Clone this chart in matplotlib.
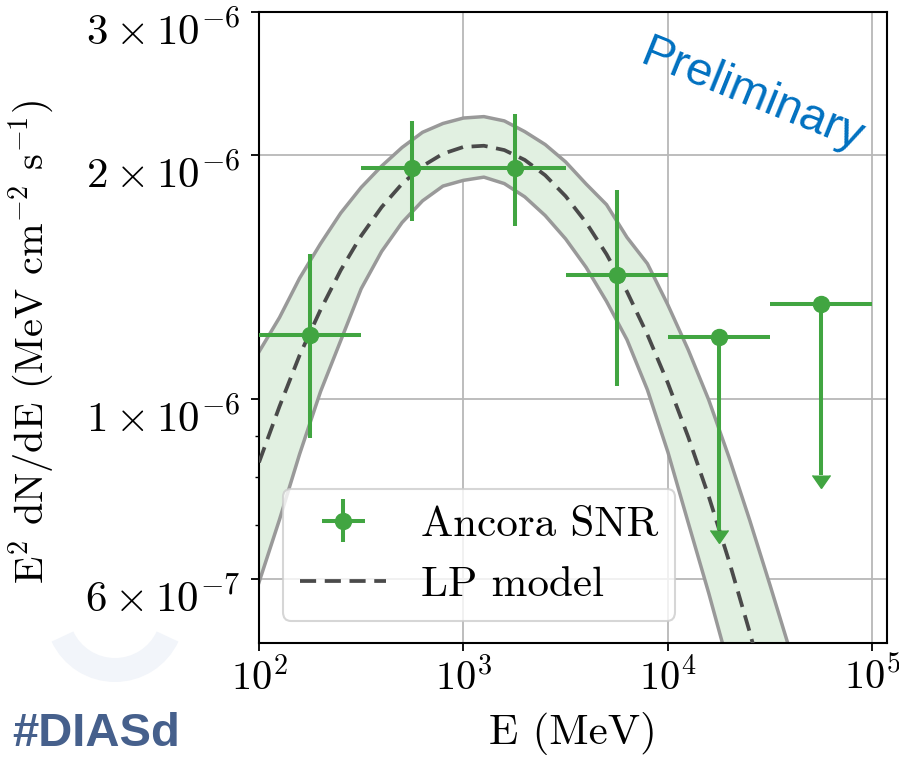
import numpy as np
import matplotlib
matplotlib.use('Agg')
import matplotlib.pyplot as plt
from matplotlib.patches import Wedge
from matplotlib.transforms import ScaledTranslation

plt.rcParams['font.family'] = 'serif'
plt.rcParams['font.serif'] = ['cmr10']
plt.rcParams['mathtext.fontset'] = 'cm'
plt.rcParams['axes.unicode_minus'] = False
plt.rcParams['axes.formatter.use_mathtext'] = True

# flux points, E in MeV, E^2 dN/dE in MeV cm-2 s-1
e_ctr = [177.8, 562.3, 1778.0, 5623.0, 17783.0, 56234.0]
e_lo = [100.0, 316.2, 1000.0, 3162.0, 10000.0, 31623.0]
e_hi = [316.2, 1000.0, 3162.0, 10000.0, 31623.0, 100000.0]
flux = [1.200e-6, 1.927e-6, 1.928e-6, 1.423e-6, 1.192e-6, 1.310e-6]
flux_dn = [0.894e-6, 1.655e-6, 1.632e-6, 1.036e-6, 0.689e-6, 0.806e-6]
flux_up = [1.510e-6, 2.199e-6, 2.247e-6, 1.811e-6, 1.192e-6, 1.310e-6]
is_ul = [False, False, False, False, True, True]

# LP model and its band, read at log10(E) = 2.0, 2.1, ... 4.6
e_model = [100, 126, 158, 200, 251, 316, 398, 501, 631, 794,
           1000, 1259, 1585, 1995, 2512, 3162, 3981, 5012, 6310, 7943,
           10000, 12589, 15849, 19953, 25119, 31623, 39811]
lp_model = [0.835, 0.979, 1.132, 1.288, 1.441, 1.589, 1.724, 1.842, 1.937, 2.006,
            2.045, 2.052, 2.027, 1.971, 1.887, 1.778, 1.650, 1.508, 1.356, 1.200,
            1.046, 0.897, 0.758, 0.630, 0.516, 0.416, 0.330]
lp_upper = [1.143, 1.260, 1.409, 1.554, 1.695, 1.823, 1.937, 2.042, 2.132, 2.186,
            2.220, 2.229, 2.202, 2.136, 2.059, 1.960, 1.841, 1.736, 1.582, 1.468,
            1.306, 1.149, 0.997, 0.846, 0.709, 0.589, 0.487]
lp_lower = [0.594, 0.710, 0.855, 1.021, 1.180, 1.367, 1.520, 1.650, 1.755, 1.830,
            1.860, 1.877, 1.843, 1.775, 1.683, 1.575, 1.453, 1.319, 1.183, 1.026,
            0.860, 0.703, 0.576, 0.466, 0.376, 0.302, 0.241]

yticks = [6e-7, 1e-6, 2e-6, 3e-6]
ytick_labels = [r'$6\times10^{-7}$', r'$1\times10^{-6}$', r'$2\times10^{-6}$', r'$3\times10^{-6}$']
xticks = [1e2, 1e3, 1e4, 1e5]
xtick_labels = [r'$10^{2}$', r'$10^{3}$', r'$10^{4}$', r'$10^{5}$']

green = '#41a541'
fs = 31

fig = plt.figure(figsize=(8.99, 7.57), dpi=100)

# faint logo watermark in the lower left corner (figure pixel coords)
bg = fig.add_axes([0, 0, 1, 1], zorder=-1)
bg.set_xlim(0, 899)
bg.set_ylim(757, 0)
bg.axis('off')
bg.add_patch(Wedge((115, 612), 70, 25, 155, width=24, color='#f2f5fa', lw=0))

ax = fig.add_axes([259/899, 1-643/757, 628/899, 631/757])

e_m = np.array(e_model, dtype=float)
ax.fill_between(e_m, np.array(lp_lower)*1e-6, np.array(lp_upper)*1e-6,
                color='#e1f0e1', lw=0, zorder=1)
ax.plot(e_m, np.array(lp_upper)*1e-6, color='#999999', lw=2.5, zorder=2)
ax.plot(e_m, np.array(lp_lower)*1e-6, color='#999999', lw=2.5, zorder=2)
lp_line, = ax.plot(e_m, np.array(lp_model)*1e-6, color='#4a4a4a', lw=2.7,
                   ls=(0, (4.3, 2.3)), zorder=3, label='LP model')

x = np.array(e_ctr)
y = np.array(flux)
xerr = np.array([x - np.array(e_lo), np.array(e_hi) - x])
yerr = np.array([y - np.array(flux_dn), np.array(flux_up) - y])
ul = np.array(is_ul)
det = ~ul

pts = ax.errorbar(x[det], y[det], xerr=xerr[:, det], yerr=yerr[:, det], fmt='o',
                  color=green, ms=11.5, elinewidth=2.9, capsize=0, zorder=5,
                  label='Ancora SNR')
ax.errorbar(x[ul], y[ul], xerr=xerr[:, ul], fmt='o', color=green, ms=11.5,
            elinewidth=2.9, capsize=0, zorder=5)
ax.errorbar(x[ul], y[ul], yerr=[y[ul] - np.array(flux_dn)[ul], np.zeros(ul.sum())],
            uplims=True, fmt='none', ecolor=green, color=green, elinewidth=2.9,
            capsize=6.4, zorder=5)

ax.set_xscale('log')
ax.set_yscale('log')
ax.set_xlim(1e2, 1.18e5)
ax.set_ylim(5e-7, 3e-6)

ax.set_xticks(xticks)
ax.set_xticklabels(xtick_labels)
ax.xaxis.set_minor_locator(matplotlib.ticker.NullLocator())
ax.set_yticks(yticks)
ax.set_yticklabels(ytick_labels)
ax.set_yticks([7e-7, 8e-7, 9e-7], minor=True)
ax.yaxis.set_minor_formatter(matplotlib.ticker.NullFormatter())
ax.tick_params(which='major', labelsize=fs, length=5.5, width=1.3, pad=5)
ax.tick_params(axis='x', which='major', labelsize=29)
ax.tick_params(axis='y', which='major', pad=8)
ax.tick_params(which='minor', length=3, width=1.0)

# tick labels in the reference sit a little below their ticks
shift = ScaledTranslation(0, -0.16, fig.dpi_scale_trans)
for t in ax.yaxis.get_major_ticks():
    t.label1.set_transform(t.label1.get_transform() + shift)

ax.grid(True, which='major', color='#b8b8b8', lw=1.3)
ax.set_axisbelow(True)
for s in ax.spines.values():
    s.set_linewidth(1.5)

ax.set_xlabel('E (MeV)', fontsize=fs, labelpad=10)
ax.set_ylabel(r'E$^2$ dN/dE (MeV cm$^{-2}$ s$^{-1}$)', fontsize=29)
ax.yaxis.set_label_coords(-0.323, 0.477)

leg = ax.legend([pts, lp_line], ['Ancora SNR', 'LP model'], loc='lower left',
                bbox_to_anchor=(0.038, 0.035), borderaxespad=0,
                fontsize=fs, framealpha=0.8, edgecolor='#cccccc', fancybox=True)
leg.get_frame().set_linewidth(1.5)

ax.text(0.785, 0.868, 'Preliminary', transform=ax.transAxes, rotation=-22,
        ha='center', va='center', fontsize=34, color='#0070c0',
        family='Liberation Sans')

fig.text(12/899, 0.001, '#DIASd', fontsize=34, fontweight='bold',
         color='#46608c', family='Liberation Sans', va='bottom', ha='left')

fig.savefig('out.png', dpi=100)
